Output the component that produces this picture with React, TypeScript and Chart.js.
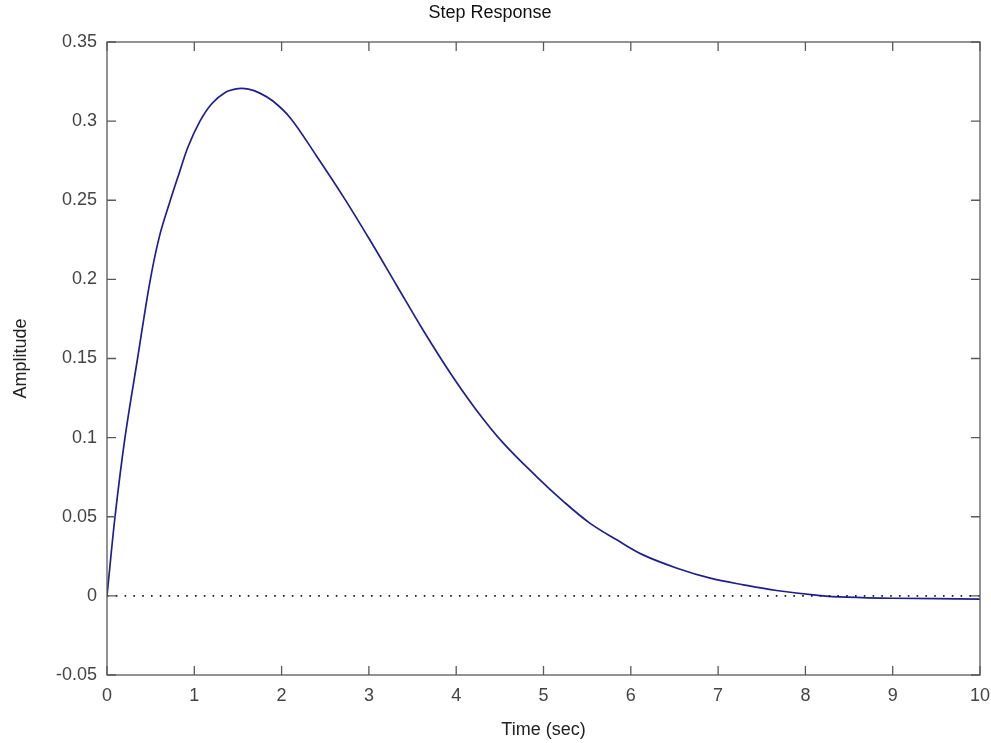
import { useEffect, useRef } from "react";
import { Chart, registerables } from "chart.js";

Chart.register(...registerables);

// Step response samples
const times = [
  0, 0.092, 0.206, 0.35, 0.49, 0.6, 0.72, 0.82, 0.93, 1.065, 1.2, 1.35, 1.5, 1.62,
  1.75, 1.9, 2.1, 2.4, 2.71, 3.01, 3.32, 3.62, 3.93, 4.23, 4.54, 4.92, 5.23, 5.53,
  5.84, 6.14, 6.53, 6.91, 7.29, 7.67, 8.17, 8.47, 9.0, 10.0,
];
const amplitude = [
  0, 0.05, 0.1, 0.15, 0.198, 0.227, 0.249, 0.266, 0.284, 0.3, 0.311, 0.318, 0.3205,
  0.3202, 0.3177, 0.3127, 0.302, 0.278, 0.252, 0.225, 0.196, 0.168, 0.141, 0.1175,
  0.0965, 0.0754, 0.0596, 0.046, 0.0354, 0.0259, 0.0175, 0.0112, 0.007, 0.0034,
  0.0002, -0.0008, -0.0015, -0.002,
];

// Dotted steady-state reference line
const zeroLineTimes = [0, 10];
const zeroLineValues = [0, 0];

// Axis ticks
const xTickValues = [0, 1, 2, 3, 4, 5, 6, 7, 8, 9, 10];
const yTickValues = [-0.05, 0, 0.05, 0.1, 0.15, 0.2, 0.25, 0.3, 0.35];

const chartTitle = "Step Response";
const xAxisLabel = "Time (sec)";
const yAxisLabel = "Amplitude";

const FONT_FAMILY = "'Liberation Sans', Arial, sans-serif";
const FONT_SIZE = 18;

const framePlugin = {
  id: "matlabFrame",
  afterDatasetsDraw(chart: any) {
    const { ctx, chartArea: a, scales } = chart;
    ctx.save();
    ctx.strokeStyle = "#5a5a5a";
    ctx.lineWidth = 1.3;
    ctx.strokeRect(a.left, a.top, a.right - a.left, a.bottom - a.top);
    const L = 9;
    ctx.beginPath();
    for (const v of xTickValues) {
      const x = scales.x.getPixelForValue(v);
      ctx.moveTo(x, a.bottom);
      ctx.lineTo(x, a.bottom - L);
      ctx.moveTo(x, a.top);
      ctx.lineTo(x, a.top + L);
    }
    for (const v of yTickValues) {
      const y = scales.y.getPixelForValue(v);
      ctx.moveTo(a.left, y);
      ctx.lineTo(a.left + L, y);
      ctx.moveTo(a.right, y);
      ctx.lineTo(a.right - L, y);
    }
    ctx.stroke();
    ctx.restore();
  },
};

export default function App() {
  const canvasRef = useRef<HTMLCanvasElement | null>(null);

  useEffect(() => {
    if (!canvasRef.current) return;
    const font = { family: FONT_FAMILY, size: FONT_SIZE };
    const chart = new Chart(canvasRef.current, {
      type: "line",
      data: {
        datasets: [
          {
            data: zeroLineTimes.map((t, i) => ({ x: t, y: zeroLineValues[i] })),
            borderColor: "#1a1a1a",
            borderWidth: 1.6,
            borderDash: [1.6, 7.2],
            pointRadius: 0,
            fill: false,
          },
          {
            data: times.map((t, i) => ({ x: t, y: amplitude[i] })),
            borderColor: "#1f1f8f",
            borderWidth: 1.7,
            pointRadius: 0,
            fill: false,
            tension: 0.35,
          },
        ],
      },
      options: {
        animation: false,
        responsive: true,
        maintainAspectRatio: false,
        layout: { autoPadding: false, padding: { left: 0, right: 11, top: 0, bottom: 0 } },
        plugins: {
          legend: { display: false },
          tooltip: { enabled: false },
          title: {
            display: true,
            text: chartTitle,
            color: "#111",
            font: { ...font, weight: "normal" },
            padding: { top: 2, bottom: 18.4 },
          },
        },
        scales: {
          x: {
            type: "linear",
            min: 0,
            max: 10,
            afterBuildTicks: (s: any) => {
              s.ticks = xTickValues.map((v) => ({ value: v }));
            },
            ticks: { color: "#444", font, padding: 10, maxRotation: 0 },
            grid: { display: false, drawTicks: false },
            border: { display: false },
            title: {
              display: true,
              text: xAxisLabel,
              color: "#222",
              font,
              padding: { top: 0, bottom: 2 },
            },
            afterFit: (s: any) => {
              s.height = 68;
              s.paddingLeft = 0;
              s.paddingRight = 0;
            },
          },
          y: {
            type: "linear",
            min: -0.05,
            max: 0.35,
            afterBuildTicks: (s: any) => {
              s.ticks = yTickValues.map((v) => ({ value: v }));
            },
            ticks: {
              color: "#444",
              font,
              padding: 10,
              callback: (v: any) => String(Number(Number(v).toFixed(2))),
            },
            grid: { display: false, drawTicks: false },
            border: { display: false },
            title: {
              display: true,
              text: yAxisLabel,
              color: "#222",
              font,
              padding: { top: 10, bottom: 0 },
            },
            afterFit: (s: any) => {
              s.width = 107;
              s.paddingTop = 0;
              s.paddingBottom = 0;
            },
          },
        },
      },
      plugins: [framePlugin],
    });
    return () => chart.destroy();
  }, []);

  return (
    <div style={{ position: "absolute", left: 0, top: 0, width: 991, height: 743, background: "#fff" }}>
      <canvas ref={canvasRef} />
    </div>
  );
}
